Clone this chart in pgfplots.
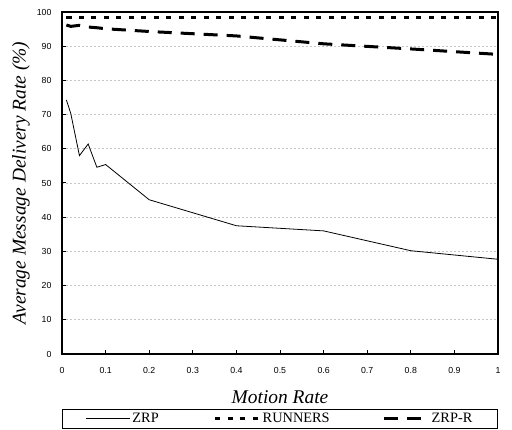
\documentclass[border=0pt]{standalone}
\usepackage{fontspec}
\setmainfont{Liberation Serif}
\newfontfamily\arialfont{Liberation Sans}
\usepackage{pgfplots}
\pgfplotsset{compat=1.18}
\begin{document}
\begin{tikzpicture}
\useasboundingbox (-62bp,-76bp) rectangle (450bp,354bp);
\begin{axis}[
  at={(0,0)}, anchor=south west,
  scale only axis, width=436bp, height=342bp,
  xmin=0, xmax=1, ymin=0, ymax=100,
  xtick={0,0.1,0.2,0.3,0.4,0.5,0.6,0.7,0.8,0.9,1},
  xticklabels={0,0.1,0.2,0.3,0.4,0.5,0.6,0.7,0.8,0.9,1},
  ytick={0,10,20,30,40,50,60,70,80,90,100},
  tick align=inside, xtick pos=bottom, ytick pos=left,
  major tick length=4bp,
  tick style={black, line width=1bp},
  axis line style={line width=1.3bp},
  ymajorgrids,
  major grid style={gray!45, dash pattern=on 2bp off 2bp, line width=0.8bp},
  /pgf/number format/assume math mode=true,
  tick label style={font=\arialfont\fontsize{8.8}{10}\selectfont},
  xticklabel style={yshift=-10bp},
  yticklabel style={xshift=-7bp},
  every axis x label/.style={at={(axis description cs:0.5,0)}, yshift=-43bp, anchor=center},
  every axis y label/.style={at={(axis description cs:0,0.5)}, xshift=-41bp, anchor=center, rotate=90},
  label style={font=\itshape\fontsize{19.5}{22}\selectfont},
  xlabel={Motion Rate},
  ylabel={Average Message Delivery Rate (\%)},
  legend style={at={(0.5,-0.1608)}, anchor=north, draw=black, line width=0.8bp,
    font=\fontsize{14.4}{16}\selectfont, inner xsep=23bp, inner ysep=2bp,
    /tikz/column 2/.style={column sep=53bp},
    /tikz/column 4/.style={column sep=51bp}},
  legend columns=3,
  legend image code/.code={\draw[#1] (0bp,0bp) -- (44bp,0bp);},
]
\addplot[black, line width=0.8bp] coordinates {
(0.01,74.3) (0.02,70.4) (0.04,58.0) (0.06,61.4) (0.08,54.6) (0.1,55.4)
(0.2,45.1) (0.4,37.5) (0.6,36.0) (0.8,30.2) (1,27.7)};
\addlegendentry{ZRP}
\addplot[black, line width=3bp, dash pattern=on 5bp off 7.5bp] coordinates {
(0.01,98.4) (0.02,98.4) (0.04,98.4) (0.06,98.4) (0.08,98.4) (0.1,98.4)
(0.2,98.4) (0.4,98.4) (0.6,98.4) (0.8,98.4) (1,98.4)};
\addlegendentry{RUNNERS}
\addplot[black, line width=3bp, dash pattern=on 14bp off 9bp] coordinates {
(0.01,96.2) (0.02,95.8) (0.04,96.1) (0.06,95.6) (0.08,95.4) (0.1,95.1)
(0.2,94.3) (0.4,93.0) (0.6,90.7) (0.8,89.2) (1,87.6)};
\addlegendentry{ZRP-R}
\end{axis}
\end{tikzpicture}
\end{document}
